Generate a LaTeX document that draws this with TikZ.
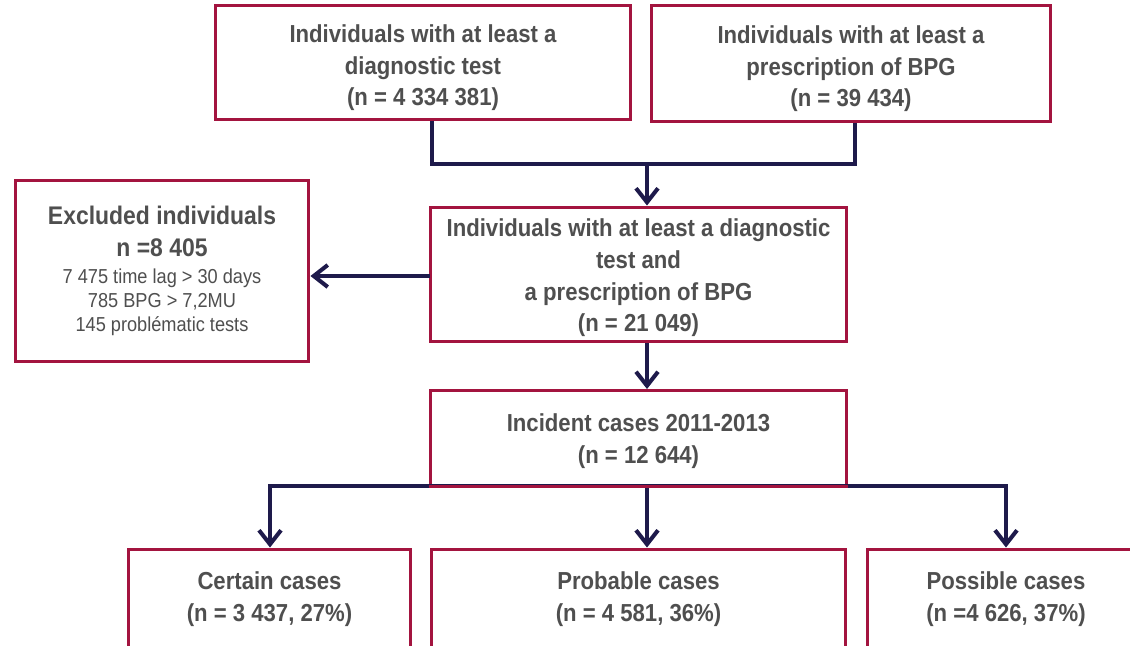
\documentclass[tikz,border=0pt]{standalone}
\usepackage{fontspec}
\setmainfont{Liberation Sans}[FakeStretch=0.9]
\usetikzlibrary{arrows.meta}
\definecolor{boxred}{HTML}{A3143F}
\definecolor{navy}{HTML}{1E1A4B}
\definecolor{txt}{HTML}{4F4F4F}
\tikzset{
  box/.style={draw=boxred, line width=1.7pt, inner sep=0pt, align=center, text=txt,
    font=\bfseries\fontsize{14}{18}\selectfont},
  conn/.style={draw=navy, line width=2.3pt, line join=miter},
  arr/.style={conn, -{Straight Barb[length=2.8mm,width=4.4mm,line width=2.3pt]}}
}
\begin{document}
\begin{tikzpicture}[x=0.02cm,y=-0.02cm]
\clip (0,0) rectangle (1130,646);
\fill[white] (0,0) rectangle (1130,646);
% junction coordinates
\coordinate (j1) at (432,164);
\coordinate (j2) at (855,164);
\coordinate (j3) at (647,164);
\coordinate (e1) at (430,276);
\coordinate (b1) at (270,486);
\coordinate (b2) at (647,486);
\coordinate (b3) at (1006,486);
% boxes
\node[box, minimum width=8.32cm, minimum height=2.3cm] (tl) at (423,62.5)
  {\rule{0pt}{16pt}Individuals with at least a\\ diagnostic test\\ (n = 4 334 381)};
\node[box, minimum width=8.0cm, minimum height=2.34cm] (tr) at (851,63.5)
  {\rule{0pt}{16pt}Individuals with at least a\\ prescription of BPG\\ (n = 39 434)};
\node[box, minimum width=8.34cm, minimum height=2.7cm] (mid) at (638.5,274.5)
  {\rule{0pt}{14pt}Individuals with at least a diagnostic\\ test and\\ a prescription of BPG\\ (n = 21 049)};
\node[box, minimum width=5.88cm, minimum height=3.64cm,
  font=\fontsize{11.5}{13.6}\selectfont] (exc) at (162,271)
  {{\bfseries\fontsize{14.5}{18}\selectfont Excluded individuals}\\[4.5pt]
   {\bfseries\fontsize{14.5}{18}\selectfont n =8 405}\\[2pt]
   7 475 time lag > 30 days\\ 785 BPG > 7,2MU\\ 145 problématic tests};
\node[box, minimum width=8.34cm, minimum height=1.9cm] (inc) at (638.5,438)
  {\rule{0pt}{14pt}Incident cases 2011-2013\\ (n = 12 644)};
\node[box, minimum width=5.66cm, minimum height=2cm] (cert) at (269.5,599)
  {Certain cases\\ (n = 3 437, 27\%)};
\node[box, minimum width=8.3cm, minimum height=2cm] (prob) at (638.5,599)
  {Probable cases\\ (n = 4 581, 36\%)};
\node[box, minimum width=5.56cm, minimum height=2cm] (poss) at (1006,599)
  {Possible cases\\ (n =4 626, 37\%)};
% connectors
\draw[conn] (tl.south -| j1) |- (j3) -| (tr.south -| j2);
\draw[arr] (j3) -- (mid.north -| j3);
\draw[arr] (e1) -- (exc.east |- e1);
\draw[arr] (mid.south -| j3) -- (inc.north -| j3);
\draw[arr] (b2) -| (cert.north -| b1);
\draw[arr] (b2) -| (poss.north -| b3);
\draw[arr] (b2) -- (prob.north -| b2);
% redraw box border over connector line
\draw[draw=boxred, line width=1.7pt] (inc.south west) -- (inc.south east);
\end{tikzpicture}
\end{document}
